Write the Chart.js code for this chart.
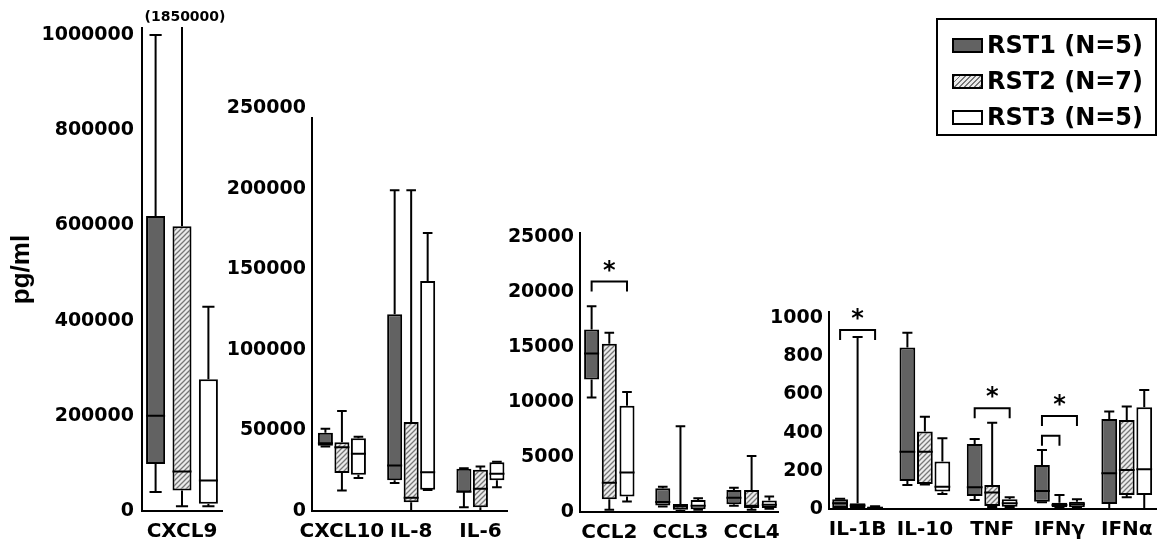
<!DOCTYPE html>
<html>
<head>
<meta charset="utf-8">
<script src="https://cdn.jsdelivr.net/npm/chart.js@4.4.1/dist/chart.umd.min.js"></script>
<style>
  body { margin: 0; background: #fff; }
  #wrap { position: relative; width: 1162px; height: 550px; overflow: hidden; }
  #wrap canvas { position: absolute; left: 0; top: 0; }
  #legend { position: absolute; left: 936px; top: 18px; width: 221px; height: 118px; box-sizing: border-box;
            border: 2px solid #000; padding-top: 7px; font: bold 24px "DejaVu Sans"; color: #000; }
  .row { height: 36px; display: flex; align-items: center; }
  .sw { width: 31px; height: 15px; border: 2px solid #000; box-sizing: border-box; margin: 0 4px 0 14px; }
</style>
</head>
<body>
<div id="wrap">
  <canvas id="p1" width="1162" height="550"></canvas>
  <canvas id="p2" width="1162" height="550"></canvas>
  <canvas id="p3" width="1162" height="550"></canvas>
  <canvas id="p4" width="1162" height="550"></canvas>
  <div id="legend"></div>
</div>
<script>
// each entry: [min, q1, median, q3, max]
const seriesNames = ['RST1 (N=5)', 'RST2 (N=7)', 'RST3 (N=5)'];

const panel1Labels = ['CXCL9'];
const panel1Rst1 = [[40000, 99000, 200000, 620000, 1000000]];
const panel1Rst2 = [[10000, 43000, 83000, 598000, 1850000]];
const panel1Rst3 = [[10000, 15000, 64000, 277000, 429000]];
const panel1Ticks = [0, 200000, 400000, 600000, 800000, 1000000];

const panel2Labels = ['CXCL10', 'IL-8', 'IL-6'];
const panel2Rst1 = [[40000, 40500, 42000, 48500, 51000], [17300, 19000, 28300, 122000, 199000], [2400, 11700, 12000, 26200, 26500]];
const panel2Rst2 = [[12700, 23500, 39600, 42700, 62000], [0, 5500, 8200, 55200, 199000], [0, 2400, 13800, 25600, 27600]];
const panel2Rst3 = [[20400, 22500, 35500, 45200, 46000], [13000, 13200, 24000, 142700, 172500], [14800, 19000, 23100, 30300, 30600]];
const panel2Ticks = [0, 50000, 100000, 150000, 200000, 250000];

const panel3Labels = ['CCL2', 'CCL3', 'CCL4'];
const panel3Rst1 = [[10400, 12050, 14400, 16600, 18700], [500, 600, 900, 2150, 2300], [570, 700, 1300, 2000, 2200]];
const panel3Rst2 = [[200, 1170, 2670, 15300, 16300], [100, 200, 500, 720, 7800], [200, 360, 570, 2000, 5100]];
const panel3Rst3 = [[960, 1400, 3600, 9650, 10900], [200, 250, 570, 1100, 1250], [300, 360, 660, 1050, 1400]];
const panel3Ticks = [0, 5000, 10000, 15000, 20000, 25000];

const panel4Labels = ['IL-1B', 'IL-10', 'TNF', 'IFNγ', 'IFNα'];
const panel4Rst1 = [[0, 5, 30, 51, 53], [126, 147, 300, 845, 923], [47, 68, 114, 340, 366], [35, 38, 94, 230, 309], [0, 26, 187, 471, 510]];
const panel4Rst2 = [[0, 5, 18, 30, 900], [128, 131, 300, 405, 483], [10, 16, 87, 126, 452], [5, 9, 21, 33, 73], [61, 73, 204, 466, 536]];
const panel4Rst3 = [[0, 2, 7, 12, 14], [79, 91, 117, 248, 370], [10, 12, 30, 51, 61], [5, 9, 25, 38, 51], [0, 73, 208, 532, 623]];
const panel4Ticks = [0, 200, 400, 600, 800, 1000];

// significance brackets: [category, from series, to series, level, mark]
const panel3Brackets = [[0, 0, 2, 20950, '*']];
const panel4Brackets = [[0, 0, 2, 937, '*'], [2, 0, 2, 527, '*'], [3, 0, 2, 487, '*'], [3, 0, 1, 384, '']];

function hatch() {
    const c = document.createElement('canvas');
    c.width = 5; c.height = 5;
    const g = c.getContext('2d');
    g.fillStyle = '#ebebeb';
    g.fillRect(0, 0, 5, 5);
    g.strokeStyle = '#777';
    g.lineWidth = 1.3;
    g.beginPath();
    g.moveTo(-1, 6); g.lineTo(6, -1);
    g.moveTo(-1, 1); g.lineTo(1, -1);
    g.moveTo(4, 6); g.lineTo(6, 4);
    g.stroke();
    return g.createPattern(c, 'repeat');
}

const fills = ['#626262', hatch(), '#ffffff'];

const boxWhiskers = {
    id: 'boxWhiskers',
    afterDatasetsDraw(chart, args, opts) {
        const { ctx, chartArea } = chart;
        const y = chart.scales.y;
        ctx.save();
        ctx.strokeStyle = '#000';
        ctx.fillStyle = '#000';
        ctx.lineWidth = 2;
        chart.data.datasets.forEach((ds, i) => {
            chart.getDatasetMeta(i).data.forEach((bar, j) => {
                const [lo, q1, med, q3, hi] = ds.stats[j];
                const x = bar.x, w = bar.width, cap = w * 0.32;
                const yHi = y.getPixelForValue(hi);
                const yLo = y.getPixelForValue(lo);
                const ym = y.getPixelForValue(med);
                ctx.beginPath();
                ctx.moveTo(x, y.getPixelForValue(q3));
                ctx.lineTo(x, Math.max(yHi, chartArea.top - 1));
                ctx.moveTo(x, y.getPixelForValue(q1));
                ctx.lineTo(x, yLo);
                if (yHi >= chartArea.top) {
                    ctx.moveTo(x - cap, yHi); ctx.lineTo(x + cap, yHi);
                }
                ctx.moveTo(x - cap, yLo); ctx.lineTo(x + cap, yLo);
                ctx.moveTo(x - w / 2, ym); ctx.lineTo(x + w / 2, ym);
                ctx.stroke();
                if (yHi < chartArea.top) {
                    // value off the top of the axis
                    ctx.font = 'bold 14px "DejaVu Sans"';
                    ctx.textAlign = 'center';
                    ctx.textBaseline = 'middle';
                    ctx.fillText('(' + hi + ')', x + 3, chartArea.top - 11);
                }
            });
        });
        (opts.brackets || []).forEach(([cat, from, to, level, mark]) => {
            const x1 = chart.getDatasetMeta(from).data[cat].x;
            const x2 = chart.getDatasetMeta(to).data[cat].x;
            const yb = y.getPixelForValue(level);
            ctx.beginPath();
            ctx.moveTo(x1, yb + 10); ctx.lineTo(x1, yb); ctx.lineTo(x2, yb); ctx.lineTo(x2, yb + 10);
            ctx.stroke();
            if (mark) {
                ctx.font = 'bold 24px "DejaVu Sans"';
                ctx.textAlign = 'center';
                ctx.textBaseline = 'alphabetic';
                ctx.fillText(mark, (x1 + x2) / 2, yb - 4);
            }
        });
        ctx.restore();
    }
};

function makePanel(id, labels, series, ticks, frame, range, bars, brackets, title) {
    const tickFont = { family: 'DejaVu Sans', weight: 'bold', size: 19 };
    return new Chart(document.getElementById(id).getContext('2d'), {
        type: 'bar',
        data: {
            datasets: series.map((stats, i) => ({
                label: seriesNames[i],
                data: stats.map((s, j) => ({ x: j, y: [s[1], s[3]] })),
                stats: stats,
                backgroundColor: fills[i],
                borderColor: '#000',
                borderWidth: 2,
                borderSkipped: false,
                barPercentage: bars[0],
                categoryPercentage: bars[1]
            }))
        },
        options: {
            responsive: false,
            animation: false,
            events: [],
            layout: { padding: { left: 0, top: frame.top, right: 1162 - frame.right, bottom: 0 } },
            plugins: {
                legend: { display: false },
                tooltip: { enabled: false },
                boxWhiskers: { brackets: brackets }
            },
            scales: {
                x: {
                    type: 'linear',
                    offset: false,
                    min: range.x[0],
                    max: range.x[1],
                    grid: { display: false, drawTicks: false },
                    border: { display: true, color: '#000', width: 2 },
                    ticks: { color: '#000', font: { family: 'DejaVu Sans', weight: 'bold', size: 20 }, padding: 9,
                             maxRotation: 0, autoSkip: false, callback: v => labels[v] },
                    afterBuildTicks: s => { s.ticks = labels.map((l, i) => ({ value: i })); },
                    afterFit: s => { s.height = 550 - frame.bottom; }
                },
                y: {
                    min: 0,
                    max: range.y,
                    grid: { display: false, drawTicks: false },
                    border: { display: true, color: '#000', width: 2 },
                    ticks: { color: '#000', font: tickFont, padding: frame.pad, autoSkip: false, callback: v => String(v) },
                    afterBuildTicks: s => { s.ticks = ticks.map(v => ({ value: v })); },
                    afterFit: s => { s.width = frame.left; },
                    title: {
                        display: !!title,
                        text: title || '',
                        color: '#000',
                        font: { family: 'Liberation Sans', weight: 'bold', size: 26 },
                        padding: { top: 6, bottom: 0 }
                    }
                }
            }
        },
        plugins: [boxWhiskers]
    });
}

makePanel('p1', panel1Labels, [panel1Rst1, panel1Rst2, panel1Rst3], panel1Ticks,
    { left: 142, right: 222, top: 28, bottom: 511, pad: 8 }, { x: [-0.5, 0.5], y: 1014706 }, [0.72, 0.99], [], 'pg/ml');
makePanel('p2', panel2Labels, [panel2Rst1, panel2Rst2, panel2Rst3], panel2Ticks,
    { left: 312, right: 507, top: 118, bottom: 511, pad: 6 }, { x: [-0.432, 2.384], y: 243800 }, [0.91, 0.715], []);
makePanel('p3', panel3Labels, [panel3Rst1, panel3Rst2, panel3Rst3], panel3Ticks,
    { left: 580, right: 778, top: 233, bottom: 512, pad: 6 }, { x: [-0.412, 2.371], y: 25364 }, [0.85, 0.746], panel3Brackets);
makePanel('p4', panel4Labels, [panel4Rst1, panel4Rst2, panel4Rst3], panel4Ticks,
    { left: 829, right: 1157, top: 312, bottom: 509, pad: 6 }, { x: [-0.425, 4.449], y: 1031 }, [0.9, 0.78], panel4Brackets);

// legend
const swatchCss = ['#626262', 'repeating-linear-gradient(135deg, #777 0 1.3px, #ebebeb 1.3px 3.6px)', '#ffffff'];
const legend = document.getElementById('legend');
seriesNames.forEach((name, i) => {
    const row = document.createElement('div');
    row.className = 'row';
    const sw = document.createElement('span');
    sw.className = 'sw';
    sw.style.background = swatchCss[i];
    row.appendChild(sw);
    row.appendChild(document.createTextNode(name));
    legend.appendChild(row);
});
</script>
</body>
</html>
